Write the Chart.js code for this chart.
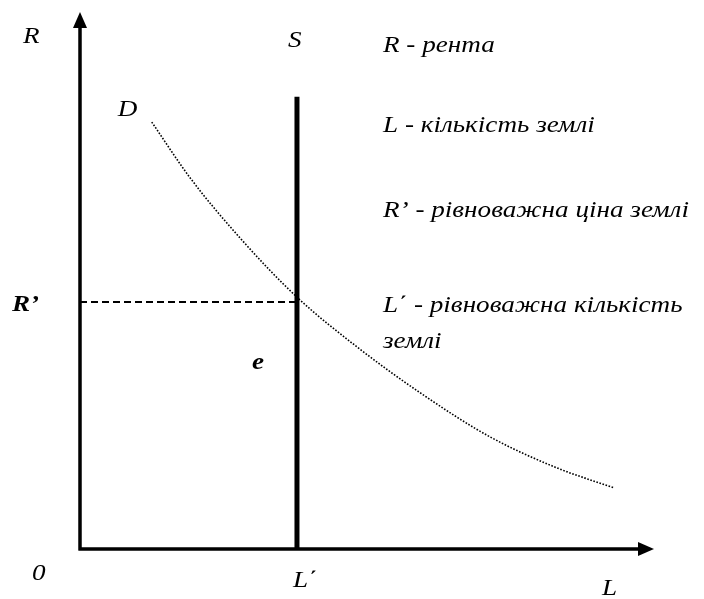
<!DOCTYPE html>
<html>
<head>
<meta charset="utf-8">
<script src="https://cdn.jsdelivr.net/npm/chart.js@4"></script>
<style>
  html, body { margin: 0; padding: 0; background: #fff; }
  #wrap { width: 704px; height: 599px; }
</style>
</head>
<body>
<div id="wrap"><canvas id="myChart" width="704" height="599"></canvas></div>
<script>
// крива попиту D: кількість землі L -> рента R
const demandL = [1.25, 1.92, 2.79, 3.78, 4.83, 5.98, 7.14, 8.31, 9.30];
const demandR = [7.95, 6.91, 5.79, 4.69, 3.76, 2.87, 2.09, 1.51, 1.14];
// пропозиція S (фіксована кількість землі L')
const supplyL = 3.78;
const supplyTop = 8.42;
// рівноважна рента R'
const rentEq = 4.6;
const axisMax = 10;
// пояснення праворуч
const legendLines = ['R - рента', 'L - кількість землі', 'R’ - рівноважна ціна землі', 'L΄ - рівноважна кількість', 'землі'];

const serif = "'Liberation Serif', 'Times New Roman', serif";
const stretch = 1.18; // текст у оригіналі трохи розтягнутий по горизонталі

const demandData = demandL.map((l, i) => ({ x: l, y: demandR[i] }));
const supplyData = [{ x: supplyL, y: 0 }, { x: supplyL, y: supplyTop }];
const rentData = [{ x: 0, y: rentEq }, { x: supplyL, y: rentEq }];

function label(ctx, t, x, y) {
  ctx.save();
  ctx.translate(x, y);
  ctx.scale(stretch, 1);
  ctx.fillText(t, 0, 0);
  ctx.restore();
}

// осі зі стрілками та підписи
const diagramPlugin = {
  id: 'diagram',
  afterDatasetsDraw(chart) {
    const ctx = chart.ctx;
    const xs = chart.scales.x, ys = chart.scales.y;
    const x0 = xs.getPixelForValue(0), y0 = ys.getPixelForValue(0);
    const xEnd = xs.getPixelForValue(axisMax), yEnd = ys.getPixelForValue(axisMax);
    ctx.save();
    ctx.strokeStyle = '#000';
    ctx.fillStyle = '#000';
    ctx.lineWidth = 3.5;
    ctx.lineCap = 'butt';
    ctx.beginPath();
    ctx.moveTo(x0, y0 + 1.5);
    ctx.lineTo(x0, yEnd + 14);
    ctx.moveTo(x0 - 1.5, y0);
    ctx.lineTo(xEnd - 14, y0);
    ctx.stroke();
    // стрілки
    ctx.beginPath();
    ctx.moveTo(x0, yEnd);
    ctx.lineTo(x0 - 7, yEnd + 16);
    ctx.lineTo(x0 + 7, yEnd + 16);
    ctx.closePath();
    ctx.fill();
    ctx.beginPath();
    ctx.moveTo(xEnd, y0);
    ctx.lineTo(xEnd - 16, y0 - 7);
    ctx.lineTo(xEnd - 16, y0 + 7);
    ctx.closePath();
    ctx.fill();

    const sx = xs.getPixelForValue(supplyL);
    const ry = ys.getPixelForValue(rentEq);
    ctx.textBaseline = 'alphabetic';
    ctx.textAlign = 'left';
    ctx.font = 'italic 23px ' + serif;
    label(ctx, 'R', x0 - 57, yEnd + 31);
    label(ctx, 'S', sx - 9, yEnd + 35);
    label(ctx, 'D', xs.getPixelForValue(demandL[0]) - 34, ys.getPixelForValue(demandR[0]) - 6);
    label(ctx, '0', x0 - 48, y0 + 31);
    label(ctx, 'L΄', sx - 4, y0 + 38);
    label(ctx, 'L', xEnd - 52, y0 + 46);
    ctx.font = 'italic bold 23px ' + serif;
    label(ctx, 'R’', x0 - 68, ry + 9);
    label(ctx, 'e', sx - 45, ry + 67);

    ctx.font = 'italic 23px ' + serif;
    const legendY = [52, 132, 217, 312, 348];
    legendLines.forEach((t, i) => label(ctx, t, 383, legendY[i]));
    ctx.restore();
  }
};

const ctx = document.getElementById('myChart').getContext('2d');
const myChart = new Chart(ctx, {
  type: 'scatter',
  data: {
    datasets: [{
      label: 'D',
      data: demandData,
      showLine: true,
      borderColor: '#000',
      borderWidth: 1.6,
      borderDash: [1.6, 1.6],
      pointRadius: 0,
      cubicInterpolationMode: 'monotone',
      fill: false
    }, {
      label: 'S',
      data: supplyData,
      showLine: true,
      borderColor: '#000',
      borderWidth: 5,
      pointRadius: 0
    }, {
      label: "R'",
      data: rentData,
      showLine: true,
      borderColor: '#000',
      borderWidth: 1.8,
      borderDash: [7, 4],
      pointRadius: 0
    }]
  },
  options: {
    responsive: false,
    animation: false,
    maintainAspectRatio: false,
    layout: { padding: { left: 80, top: 12, right: 50, bottom: 50 } },
    plugins: {
      legend: { display: false },
      tooltip: { enabled: false },
      title: { display: false }
    },
    scales: {
      x: { type: 'linear', min: 0, max: axisMax, display: false },
      y: { type: 'linear', min: 0, max: axisMax, display: false }
    }
  },
  plugins: [diagramPlugin]
});
</script>
</body>
</html>
